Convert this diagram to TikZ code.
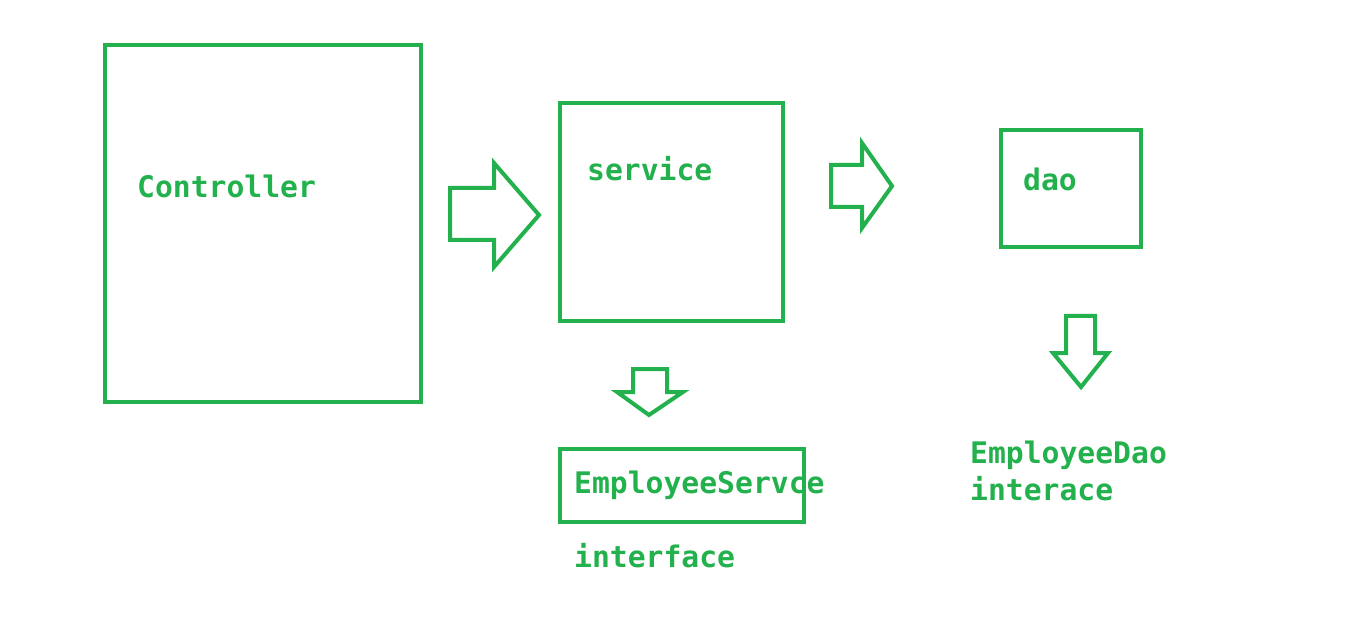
\documentclass[tikz,border=0pt]{standalone}
\usepackage{fontspec}
\setmonofont{DejaVu Sans Mono}
\definecolor{paintgreen}{RGB}{34,177,76}
\tikzset{
  box/.style={draw=paintgreen, line width=4pt},
  lbl/.style={anchor=base west, inner sep=0pt, text=paintgreen,
    font=\fontsize{29.7}{36}\ttfamily\bfseries},
  blk/.style={draw=paintgreen, line width=4pt, line join=miter}
}
\begin{document}
\begin{tikzpicture}[x=1pt,y=-1pt]
\useasboundingbox (0,0) rectangle (1351,617);
% boxes
\draw[box] (105,45) rectangle (421,402);
\draw[box] (560,103) rectangle (783,321);
\draw[box] (1001,130) rectangle (1141,247);
\draw[box] (560,449) rectangle (804,522);
% labels
\node[lbl] (controller) at (137,198) {Controller};
\node[lbl] (service) at (587,181) {service};
\node[lbl] (dao) at (1023,191) {dao};
\node[lbl] (empservice) at (574,493) {EmployeeServce};
\node[lbl] (empservicei) at (574,567) {interface};
\node[lbl] (empdao) at (970,463) {EmployeeDao};
\node[lbl] (empdaoi) at (970,500) {interace};
% block arrows
\draw[blk] (450,188) -- (494,188) -- (494,163) -- (539,215) -- (494,267) -- (494,240) -- (450,240) -- cycle;
\draw[blk] (831,165) -- (862,165) -- (862,143) -- (892,186) -- (862,228) -- (862,207) -- (831,207) -- cycle;
\draw[blk] (633,369) -- (667,369) -- (667,392) -- (683,392) -- (649,415) -- (617,392) -- (633,392) -- cycle;
\draw[blk] (1066,316) -- (1095,316) -- (1095,353) -- (1108,353) -- (1081,387) -- (1053,353) -- (1066,353) -- cycle;
\end{tikzpicture}
\end{document}
